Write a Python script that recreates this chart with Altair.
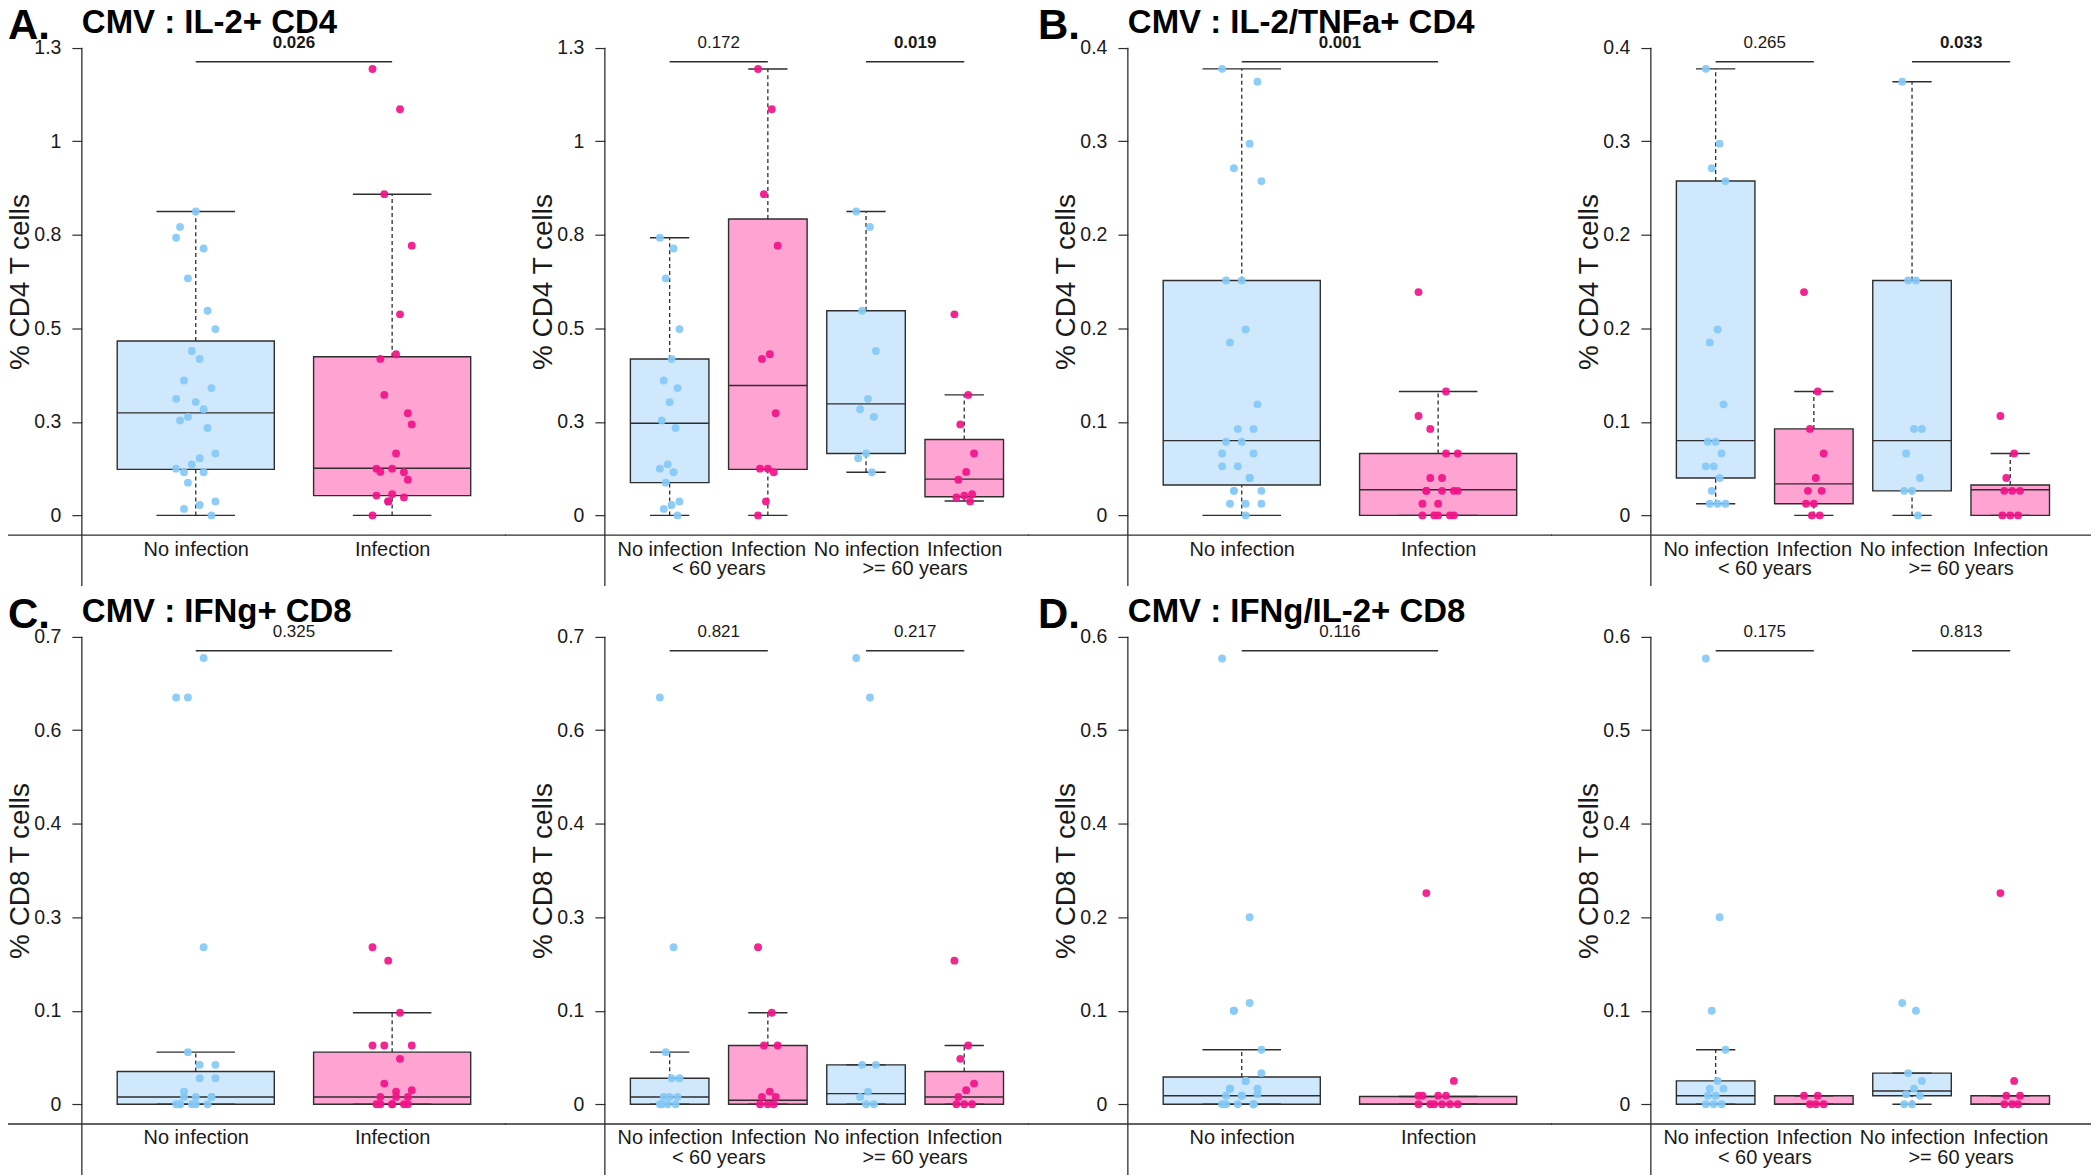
import altair as alt
import pandas as pd

FONT = "Liberation Sans"
TEXT = "#1a1a1a"
DARK = "#2e2e2e"
BLUE_PT, BLUE_BOX = "#84c9f6", "#cfe8fb"
PINK_PT, PINK_BOX = "#f21288", "#ffa3d3"
W, H = 425, 506

# ---- y-axis tick values (labels show them rounded to one decimal) ----
A_ticks = [0, 0.26, 0.52, 0.78, 1.04, 1.3]
B_ticks = [0, 0.08, 0.16, 0.24, 0.32, 0.4]
C_ticks = [0, 0.14, 0.28, 0.42, 0.56, 0.7]
D_ticks = [0, 0.12, 0.24, 0.36, 0.48, 0.6]

# ---- individual values: age group x infection ----
A_young_noinf = [0.772, 0.742, 0.659, 0.518, 0.435, 0.375, 0.354, 0.315, 0.264, 0.243, 0.142, 0.130, 0.120, 0.091, 0.039, 0.029, 0.018, 0.0]
A_young_inf = [1.241, 1.129, 0.893, 0.750, 0.448, 0.435, 0.284, 0.130, 0.130, 0.120, 0.039, 0.0]
A_old_noinf = [0.845, 0.802, 0.569, 0.457, 0.324, 0.295, 0.274, 0.172, 0.159, 0.120]
A_old_inf = [0.559, 0.335, 0.253, 0.172, 0.121, 0.099, 0.059, 0.055, 0.050, 0.039]

B_young_noinf = [0.382, 0.318, 0.297, 0.286, 0.159, 0.148, 0.095, 0.063, 0.063, 0.053, 0.042, 0.042, 0.032, 0.021, 0.010, 0.010, 0.010]
B_young_inf = [0.191, 0.106, 0.074, 0.053, 0.032, 0.021, 0.021, 0.010, 0.010, 0.0, 0.0]
B_old_noinf = [0.371, 0.201, 0.201, 0.074, 0.074, 0.053, 0.032, 0.021, 0.021, 0.0]
B_old_inf = [0.085, 0.053, 0.032, 0.021, 0.021, 0.021, 0.0, 0.0, 0.0]

C_young_noinf = [0.609, 0.235, 0.078, 0.039, 0.039, 0.011, 0.011, 0.011, 0.0, 0.0, 0.0, 0.0]
C_young_inf = [0.235, 0.137, 0.088, 0.088, 0.019, 0.011, 0.011, 0.0, 0.0, 0.0]
C_old_noinf = [0.668, 0.609, 0.059, 0.059, 0.019, 0.011, 0.0, 0.0]
C_old_inf = [0.215, 0.088, 0.068, 0.031, 0.021, 0.011, 0.0, 0.0, 0.0]

D_young_noinf = [0.572, 0.240, 0.120, 0.070, 0.030, 0.020, 0.020, 0.011, 0.011, 0.0, 0.0, 0.0]
D_young_inf = [0.011, 0.011, 0.0, 0.0, 0.0]
D_old_noinf = [0.130, 0.120, 0.040, 0.030, 0.020, 0.013, 0.011, 0.0, 0.0]
D_old_inf = [0.271, 0.030, 0.011, 0.011, 0.0, 0.0, 0.0]

# ---- box statistics: [lower whisker, Q1, median, Q3, upper whisker] ----
A_left_boxes = [[0, 0.128, 0.285, 0.485, 0.845], [0, 0.055, 0.131, 0.441, 0.893]]
A_right_boxes = [[0, 0.091, 0.256, 0.435, 0.772], [0, 0.128, 0.361, 0.824, 1.241],
                 [0.120, 0.172, 0.310, 0.569, 0.845], [0.040, 0.052, 0.101, 0.211, 0.335]]
B_left_boxes = [[0, 0.026, 0.064, 0.201, 0.382], [0, 0, 0.022, 0.053, 0.106]]
B_right_boxes = [[0.010, 0.032, 0.064, 0.286, 0.382], [0, 0.010, 0.027, 0.074, 0.106],
                 [0, 0.021, 0.064, 0.201, 0.371], [0, 0, 0.022, 0.026, 0.053]]
C_left_boxes = [[0, 0, 0.011, 0.049, 0.078], [0, 0, 0.011, 0.078, 0.137]]
C_right_boxes = [[0, 0, 0.011, 0.039, 0.078], [0, 0, 0.006, 0.088, 0.137],
                 [0, 0, 0.016, 0.059, 0.059], [0, 0, 0.011, 0.049, 0.088]]
D_left_boxes = [[0, 0, 0.011, 0.035, 0.070], [0, 0, 0, 0.010, 0.010]]
D_right_boxes = [[0, 0, 0.011, 0.030, 0.070], [0, 0, 0, 0.011, 0.011],
                 [0, 0.011, 0.017, 0.040, 0.040], [0, 0, 0, 0.011, 0.011]]

# ---- p-values (bold = significant) ----
A_left_p, A_left_bold = ["0.026"], [True]
A_right_p, A_right_bold = ["0.172", "0.019"], [False, True]
B_left_p, B_left_bold = ["0.001"], [True]
B_right_p, B_right_bold = ["0.265", "0.033"], [False, True]
C_left_p, C_left_bold = ["0.325"], [False]
C_right_p, C_right_bold = ["0.821", "0.217"], [False, False]
D_left_p, D_left_bold = ["0.116"], [False]
D_right_p, D_right_bold = ["0.175", "0.813"], [False, False]

letters = ["A.", "B.", "C.", "D."]
titles = ["CMV : IL-2+ CD4", "CMV : IL-2/TNFa+ CD4", "CMV : IFNg+ CD8", "CMV : IFNg/IL-2+ CD8"]
ytitles = ["% CD4 T cells", "% CD4 T cells", "% CD8 T cells", "% CD8 T cells"]
ages = ["< 60 years", ">= 60 years"]
GROUPS = ["No infection", "Infection"]


def points_df(groups, infs):
    rows = []
    for pos, (vals, inf) in enumerate(zip(groups, infs), start=1):
        for k, v in enumerate(vals):
            rows.append({"pos": pos, "v": v, "inf": inf, "k": k})
    return pd.DataFrame(rows)


def boxes_df(boxes, infs):
    rows = []
    for pos, (b, inf) in enumerate(zip(boxes, infs), start=1):
        lo, q1, med, q3, hi = b
        rows.append({"pos": pos, "inf": inf, "lo": lo, "q1": q1, "med": med, "q3": q3, "hi": hi})
    return pd.DataFrame(rows)


one = pd.DataFrame({"a": [0]})


def panel(pts, bxs, ticks, ytitle, n, pvals, bolds, letter=None, letter_x=-74,
          title=None, line_left=-100, line_right=W, anchor=False):
    ymax = ticks[-1]
    xdom = [0.42, 2.58] if n == 2 else [0.34, 4.66]
    xsc = alt.Scale(domain=xdom, nice=False, zero=False)
    ysc = alt.Scale(domain=[-0.04 * ymax, 1.04 * ymax], nice=False, zero=False)
    xaxis = alt.Axis(values=list(range(1, n + 1)),
                     labelExpr="datum.value == 1 || datum.value == 3 ? 'No infection' : 'Infection'",
                     title=None, domain=False, ticks=False, tickSize=0, grid=False,
                     labelPadding=21, labelBaseline="alphabetic", labelFontSize=20,
                     labelFont=FONT, labelColor=TEXT, labelFlush=False,
                     labelOverlap=False, labelBound=False)
    yaxis = alt.Axis(values=ticks, labelExpr="format(datum.value, '.1~f')", title=ytitle,
                     domain=False, ticks=True, tickSize=10, tickColor=DARK, tickWidth=1.2,
                     grid=False, labelPadding=11, labelFontSize=19.5, labelFont=FONT,
                     labelColor=TEXT, labelOverlap=False, titleFont=FONT, titleFontSize=28,
                     titleFontWeight="normal", titleColor=TEXT, titleX=-53, titleAngle=270,
                     titleBaseline="alphabetic", titleAlign="center")
    X = lambda f: alt.X(f, scale=xsc, axis=xaxis)
    Y = lambda f: alt.Y(f, scale=ysc, axis=yaxis)

    base_b = alt.Chart(bxs).transform_calculate(
        xl="datum.pos - 0.4", xr="datum.pos + 0.4",
        cl="datum.pos - 0.2", cr="datum.pos + 0.2")

    boxes = base_b.mark_rect(stroke=DARK, strokeWidth=1.4).encode(
        x=X("xl:Q"), x2="xr:Q", y=Y("q1:Q"), y2="q3:Q",
        fill=alt.Fill("inf:N", scale=alt.Scale(domain=GROUPS, range=[BLUE_BOX, PINK_BOX]), legend=None))
    wu = base_b.mark_rule(stroke=DARK, strokeWidth=1.3, strokeDash=[4, 3]).encode(
        x=X("pos:Q"), y=Y("q3:Q"), y2="hi:Q")
    wl = base_b.mark_rule(stroke=DARK, strokeWidth=1.3, strokeDash=[4, 3]).encode(
        x=X("pos:Q"), y=Y("lo:Q"), y2="q1:Q")
    cu = base_b.mark_rule(stroke=DARK, strokeWidth=1.4).encode(x=X("cl:Q"), x2="cr:Q", y=Y("hi:Q"))
    cl = base_b.mark_rule(stroke=DARK, strokeWidth=1.4).encode(x=X("cl:Q"), x2="cr:Q", y=Y("lo:Q"))
    med = base_b.mark_rule(stroke=DARK, strokeWidth=1.4).encode(x=X("xl:Q"), x2="xr:Q", y=Y("med:Q"))

    dots = alt.Chart(pts).transform_calculate(
        xj="datum.pos + ((datum.k * 7) % 11 - 5) / 50"
    ).mark_circle(size=62, opacity=0.92).encode(
        x=X("xj:Q"), y=Y("v:Q"),
        color=alt.Color("inf:N", scale=alt.Scale(domain=GROUPS, range=[BLUE_PT, PINK_PT]), legend=None))

    m = len(pvals)
    sig = pd.DataFrame({
        "x1": [1 + 2 * i for i in range(m)],
        "x2": [2 + 2 * i for i in range(m)],
        "xm": [1.5 + 2 * i for i in range(m)],
        "p": pvals, "bold": bolds,
        "yb": [0.97 * ymax] * m, "yt": [ymax] * m})
    sbar = alt.Chart(sig).mark_rule(stroke=DARK, strokeWidth=1.4).encode(
        x=X("x1:Q"), x2="x2:Q", y=Y("yb:Q"))
    st_b = alt.Chart(sig).transform_filter("datum.bold").mark_text(
        font=FONT, fontSize=17, fontWeight="bold", color=TEXT, baseline="alphabetic").encode(
        x=X("xm:Q"), y=Y("yt:Q"), text="p:N")
    st_n = alt.Chart(sig).transform_filter("!datum.bold").mark_text(
        font=FONT, fontSize=17, color=TEXT, baseline="alphabetic").encode(
        x=X("xm:Q"), y=Y("yt:Q"), text="p:N")

    top = pd.DataFrame({"top": [ymax]})
    vline = alt.Chart(top).mark_rule(stroke=DARK, strokeWidth=1.3).encode(
        x=alt.value(0), y=Y("top:Q"), y2=alt.value(H + 52))
    hline = alt.Chart(one).mark_rule(stroke=DARK, strokeWidth=1.3).encode(
        x=alt.value(line_left), x2=alt.value(line_right), y=alt.value(H + 1))

    layers = [boxes, wu, wl, cu, cl, med, dots, sbar, st_b, st_n, vline, hline]

    if n == 4:
        agedf = pd.DataFrame({"xm": [1.5, 3.5], "t": ages})
        layers.append(alt.Chart(agedf).mark_text(
            font=FONT, fontSize=20, color=TEXT, baseline="alphabetic").encode(
            x=X("xm:Q"), y=alt.value(H + 41), text="t:N"))
    if letter is not None:
        layers.append(alt.Chart(one).mark_text(
            font=FONT, fontSize=42, fontWeight="bold", color="#000000",
            align="left", baseline="alphabetic").encode(
            x=alt.value(letter_x), y=alt.value(10), text=alt.value(letter)))
    if title is not None:
        layers.append(alt.Chart(one).mark_text(
            font=FONT, fontSize=33, fontWeight="bold", color="#000000",
            align="left", baseline="alphabetic").encode(
            x=alt.value(0), y=alt.value(4), text=alt.value(title)))
    if anchor:
        # invisible layout anchor fixing the chart's top-left corner
        layers.append(alt.Chart(one).mark_rule(opacity=0, stroke="#ffffff").encode(
            x=alt.value(-78), x2=alt.value(-77), y=alt.value(-24), y2=alt.value(-23)))
    return alt.layer(*layers).properties(width=W, height=H)


sections = [
    (A_young_noinf, A_young_inf, A_old_noinf, A_old_inf, A_left_boxes, A_right_boxes, A_ticks,
     A_left_p, A_left_bold, A_right_p, A_right_bold),
    (B_young_noinf, B_young_inf, B_old_noinf, B_old_inf, B_left_boxes, B_right_boxes, B_ticks,
     B_left_p, B_left_bold, B_right_p, B_right_bold),
    (C_young_noinf, C_young_inf, C_old_noinf, C_old_inf, C_left_boxes, C_right_boxes, C_ticks,
     C_left_p, C_left_bold, C_right_p, C_right_bold),
    (D_young_noinf, D_young_inf, D_old_noinf, D_old_inf, D_left_boxes, D_right_boxes, D_ticks,
     D_left_p, D_left_bold, D_right_p, D_right_bold),
]

panels = []
for i, (yn, yi, on, oi, lb, rb, ticks, lp, lbd, rp, rbd) in enumerate(sections):
    first = i % 2 == 0
    left_pts = points_df([yn + on, yi + oi], GROUPS)
    right_pts = points_df([yn, yi, on, oi], GROUPS + GROUPS)
    left = panel(left_pts, boxes_df(lb, GROUPS), ticks, ytitles[i], 2, lp, lbd,
                 letter=letters[i], letter_x=-74 if first else -90, title=titles[i],
                 line_left=-74 if first else -100, anchor=(i == 0))
    right = panel(right_pts, boxes_df(rb, GROUPS + GROUPS), ticks, ytitles[i], 4, rp, rbd,
                  line_left=-100, line_right=W if first else W + 16)
    panels += [left, right]

chart = alt.concat(*panels, columns=4, spacing={"row": 84, "column": 99}, bounds="flush").properties(
    padding={"left": -4, "top": -4, "right": 0, "bottom": 0}
).configure(background="white").configure_view(strokeWidth=0)

chart.save("out.html", embed_options={"renderer": "svg", "actions": False})
